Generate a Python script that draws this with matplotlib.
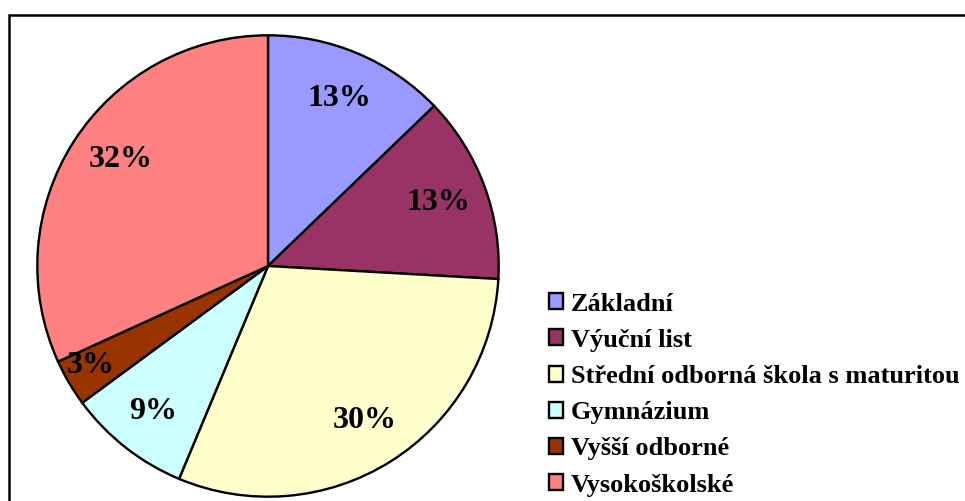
import matplotlib.pyplot as plt
from matplotlib.patches import Rectangle

# data
labels = ['Základní', 'Výuční list', 'Střední odborná škola s maturitou',
          'Gymnázium', 'Vyšší odborné', 'Vysokoškolské']
values = [12.8, 13.1, 30.4, 8.6, 3.3, 31.8]
colors = ['#9999FF', '#993366', '#FFFFCC', '#CCFFFF', '#993300', '#FF8080']

plt.rcParams['font.family'] = ['Liberation Serif', 'DejaVu Serif']
plt.rcParams['font.weight'] = 'bold'

W, H = 965, 501
fig = plt.figure(figsize=(W / 100, H / 100), dpi=100)

# frame round the chart area (only top and left visible)
fig.patches.append(Rectangle((9 / W, -0.1), 1.2, 1 - 15 / H + 0.1,
                             transform=fig.transFigure, fill=False,
                             edgecolor='black', linewidth=1.8))

cx, cy, r = 268, 266, 233
ax = fig.add_axes([(cx - r) / W, (H - cy - r) / H, 2 * r / W, 2 * r / H])
wedges, texts, autotexts = ax.pie(
    values, colors=colors, startangle=90, counterclock=False,
    autopct='%.0f%%', pctdistance=0.79, radius=1,
    wedgeprops=dict(edgecolor='black', linewidth=1.7),
    textprops=dict(fontsize=23, fontweight='bold', color='black'))
# small nudges so the labels sit as in the original
autotexts[3].set_position((-0.50, -0.63))
autotexts[4].set_position((-0.77, -0.43))
autotexts[5].set_position((-0.64, 0.46))
ax.set_xlim(-1.01, 1.01)
ax.set_ylim(-1.01, 1.01)
ax.set_aspect('equal')

fig.legend(wedges, labels, loc='upper left', bbox_to_anchor=(538 / W, 1 - 282 / H),
           frameon=False, prop=dict(size=19, weight='bold'),
           handlelength=0.55, handleheight=0.55, handletextpad=0.3,
           labelspacing=0.5, borderaxespad=0)

fig.savefig('out.png', dpi=100)
